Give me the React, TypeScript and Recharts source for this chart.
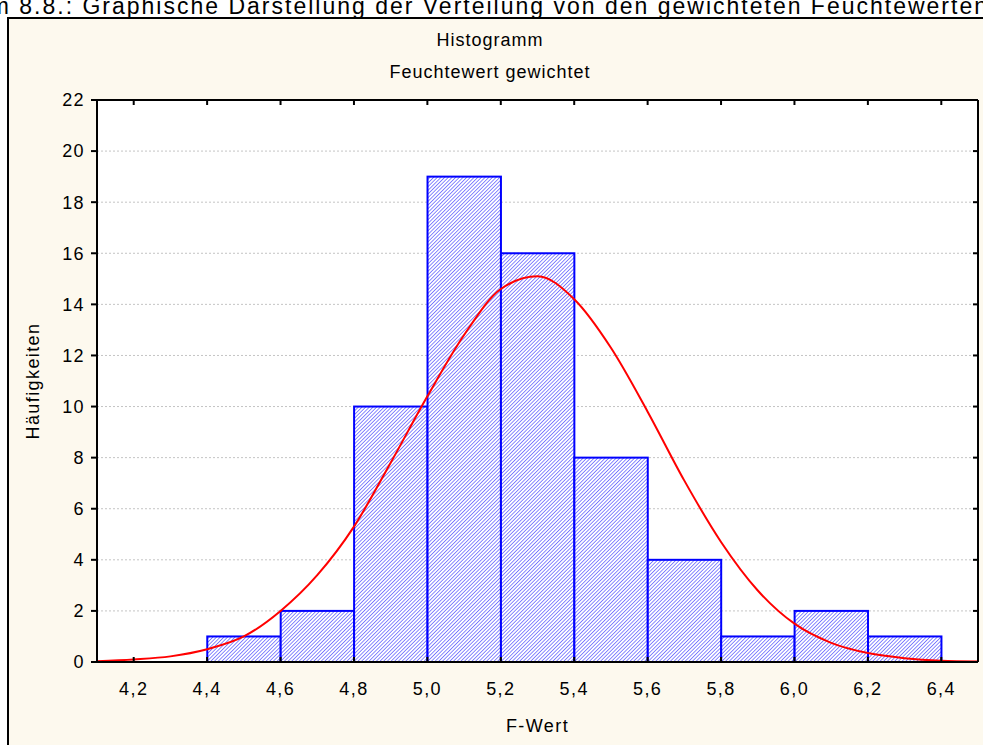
import React from "react";
import {
  ComposedChart,
  Bar,
  Line,
  XAxis,
  YAxis,
  CartesianGrid,
  Label,
} from "recharts";

// Klassenmitten und Häufigkeiten (Klassenbreite 0,2)
const binCenters = [4.5, 4.7, 4.9, 5.1, 5.3, 5.5, 5.7, 5.9, 6.1, 6.3];
const binCounts = [1, 2, 10, 19, 16, 8, 4, 1, 2, 1];
const binWidth = 0.2;

// Normalverteilungskurve
const curveX = [
  4.1, 4.2, 4.3, 4.4, 4.5, 4.6, 4.7, 4.8, 4.9, 5.0, 5.1, 5.2, 5.3,
  5.4, 5.5, 5.6, 5.7, 5.8, 5.9, 6.0, 6.1, 6.2, 6.3, 6.4, 6.5,
];
const curveY = [
  0.03, 0.1, 0.22, 0.5, 1.0, 2.0, 3.4, 5.3, 7.8, 10.4, 12.8, 14.6, 15.1,
  14.2, 12.3, 9.8, 7.1, 4.7, 2.8, 1.5, 0.75, 0.35, 0.15, 0.05, 0.02,
];

const xTicks = [4.2, 4.4, 4.6, 4.8, 5.0, 5.2, 5.4, 5.6, 5.8, 6.0, 6.2, 6.4];
const yTicks = [0, 2, 4, 6, 8, 10, 12, 14, 16, 18, 20, 22];
const xDomain = [4.1, 6.5];
const yDomain = [0, 22];

const font = "'Liberation Sans', Arial, sans-serif";
const fontSize = 18;
const spacing = 1.4;

const W = 983;
const H = 745;
const margin = { top: 99, right: 4, bottom: 13, left: 20 };
const yAxisW = 77;
const plotW = W - margin.left - margin.right - yAxisW - 1;
const barPx = (plotW * binWidth) / (xDomain[1] - xDomain[0]);

const fmt = (v: number) => v.toFixed(1).replace(".", ",");

const textStyle = { fill: "#000", fontSize, letterSpacing: spacing };
const noLabel = () => null;

// breite Säule um die von Recharts berechnete Klassenmitte
function HistBar(props: any) {
  const { x, y, width, height } = props;
  if (!height) return null;
  const cx = x + width / 2;
  return (
    <rect
      x={cx - barPx / 2}
      y={y}
      width={barPx}
      height={height}
      fill="url(#hatch)"
      stroke="#0000ff"
      strokeWidth={2}
    />
  );
}

export default function App() {
  const barData = binCenters.map((x, i) => ({ x, count: binCounts[i] }));
  const curveData = curveX.map((x, i) => ({ x, fit: curveY[i] }));

  return (
    <div
      style={{
        position: "fixed",
        left: 0,
        top: 0,
        width: W,
        height: H,
        overflow: "hidden",
        background: "#ffffff",
        fontFamily: font,
      }}
    >
      <div
        style={{
          position: "absolute",
          right: -6,
          top: -4,
          fontSize: 23,
          letterSpacing: 2,
          lineHeight: "20px",
          whiteSpace: "nowrap",
          color: "#000",
        }}
      >
        Diagramm 8.8.: Graphische Darstellung der Verteilung von den gewichteten Feuchtewerten
      </div>
      <div
        style={{
          position: "absolute",
          left: 7,
          top: 17,
          width: W,
          height: H,
          borderLeft: "2px solid #000",
          borderTop: "2px solid #000",
          background: "#fdf9ee",
        }}
      />
      <div
        style={{
          position: "absolute",
          left: 290,
          width: 400,
          top: 24,
          textAlign: "center",
          fontSize,
          letterSpacing: 1,
          lineHeight: "32px",
          color: "#000",
        }}
      >
        <div>Histogramm</div>
        <div>Feuchtewert gewichtet</div>
      </div>
      <div style={{ position: "absolute", left: 0, top: 0 }}>
        <ComposedChart
          width={W}
          height={H}
          data={barData}
          margin={margin}
          barCategoryGap={0}
          style={{ fontFamily: font }}
        >
          <defs>
            <pattern
              id="hatch"
              patternUnits="userSpaceOnUse"
              width="2.6"
              height="2.6"
              patternTransform="rotate(45)"
            >
              <rect width="2.6" height="2.6" fill="#ffffff" />
              <line x1="0" y1="0" x2="0" y2="2.6" stroke="#4848ff" strokeWidth="1.3" />
            </pattern>
          </defs>
          <CartesianGrid
            vertical={false}
            fill="#ffffff"
            stroke="#c4c4c4"
            strokeDasharray="2 2"
          />
          <XAxis
            dataKey="x"
            type="number"
            domain={xDomain}
            ticks={xTicks}
            allowDataOverflow
            interval={0}
            tickFormatter={fmt}
            height={70}
            tickSize={-5}
            tickMargin={25}
            axisLine={{ stroke: "#000", strokeWidth: 2 }}
            tickLine={{ stroke: "#000", strokeWidth: 2 }}
            tick={textStyle}
          >
            <Label value="F-Wert" position="insideBottom" offset={0} style={textStyle} />
          </XAxis>
          <XAxis
            xAxisId="top"
            orientation="top"
            dataKey="x"
            type="number"
            domain={xDomain}
            ticks={xTicks}
            allowDataOverflow
            interval={0}
            height={1}
            tickSize={-5}
            tick={noLabel}
            axisLine={{ stroke: "#000", strokeWidth: 2 }}
            tickLine={{ stroke: "#000", strokeWidth: 2 }}
          />
          <YAxis
            type="number"
            domain={yDomain}
            ticks={yTicks}
            allowDataOverflow
            interval={0}
            width={yAxisW}
            tickSize={6}
            tickMargin={6}
            axisLine={{ stroke: "#000", strokeWidth: 2 }}
            tickLine={{ stroke: "#000", strokeWidth: 2 }}
            tick={textStyle}
          >
            <Label
              value="Häufigkeiten"
              angle={-90}
              position="insideLeft"
              offset={13}
              style={{ ...textStyle, textAnchor: "middle" }}
            />
          </YAxis>
          <YAxis
            yAxisId="right"
            orientation="right"
            type="number"
            domain={yDomain}
            ticks={yTicks}
            allowDataOverflow
            interval={0}
            width={1}
            tickSize={-5}
            tick={noLabel}
            axisLine={{ stroke: "#000", strokeWidth: 2 }}
            tickLine={{ stroke: "#000", strokeWidth: 2 }}
          />
          <Bar
            dataKey="count"
            shape={HistBar}
            isAnimationActive={false}
          />
          <Line
            data={curveData}
            dataKey="fit"
            type="monotone"
            stroke="#ff0000"
            strokeWidth={2}
            dot={false}
            isAnimationActive={false}
          />
        </ComposedChart>
      </div>
    </div>
  );
}
